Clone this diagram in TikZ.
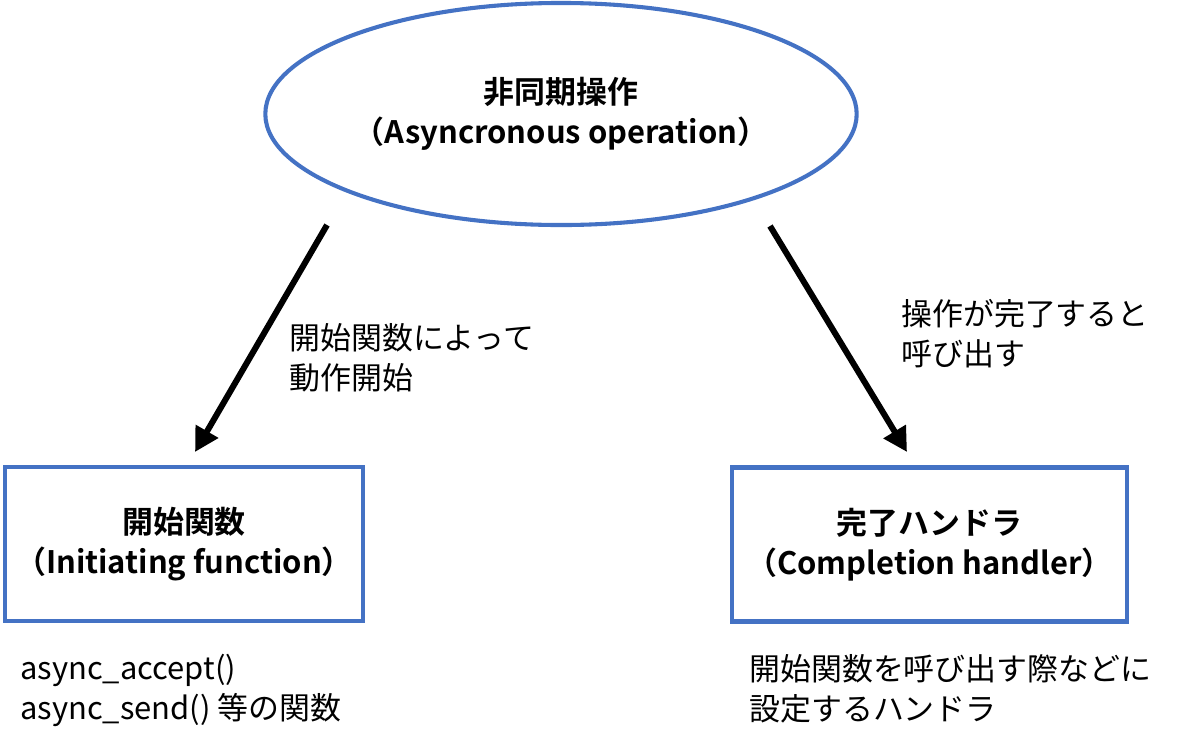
\documentclass[tikz,border=0pt]{standalone}
\usepackage{fontspec}
\setmainfont{Noto Sans CJK JP}[BoldFont={Noto Sans CJK JP Bold}]
\usepackage{tikz}
\usetikzlibrary{shapes.geometric, arrows.meta, calc}
\definecolor{officeblue}{HTML}{4472C4}

\begin{document}
\begin{tikzpicture}[x=0.025cm, y=-0.025cm,
		every node/.style={font=\fontsize{22}{28.5}\selectfont, inner sep=0pt},
		opellipse/.style={ellipse, draw=officeblue, line width=2.9pt, minimum width=14.78cm, minimum height=5.55cm, align=center, font=\fontsize{22}{28.5}\selectfont\bfseries},
		partbox/.style={rectangle, draw=officeblue, line width=3.4pt, minimum height=3.85cm, align=center, font=\fontsize{22}{28.5}\selectfont\bfseries},
		bigarrow/.style={line width=4.3pt, -{Triangle[length=0.6cm, width=0.62cm]}},
		note/.style={anchor=west, align=left}]
	\useasboundingbox (0,0) rectangle (1200,750);
	\node[opellipse] (op) at (561,114) {非同期操作\\（Asyncronous operation）};
	\node[partbox, minimum width=8.95cm] (init) at (184,544) {開始関数\\（Initiating function）};
	\node[partbox, minimum width=9.875cm] (handler) at (929.5,544.5) {完了ハンドラ\\（Completion handler）};
	% arrow ends
	\coordinate (initfrom) at (327,225);
	\coordinate (initto) at (195,452);
	\coordinate (handlerfrom) at (770,226);
	\coordinate (handlerto) at (907,452);
	\draw[bigarrow] (initfrom) -- (initto);
	\draw[bigarrow] (handlerfrom) -- (handlerto);
	\node[note] (initlabel) at (289,358) {開始関数によって\\動作開始};
	\node[note] (handlerlabel) at (901,334) {操作が完了すると\\呼び出す};
	\node[note] (initnote) at (20,690) {async\_accept()\\async\_send() 等の関数};
	\node[note] (handlernote) at (749,689) {開始関数を呼び出す際などに\\設定するハンドラ};
\end{tikzpicture}
\end{document}
